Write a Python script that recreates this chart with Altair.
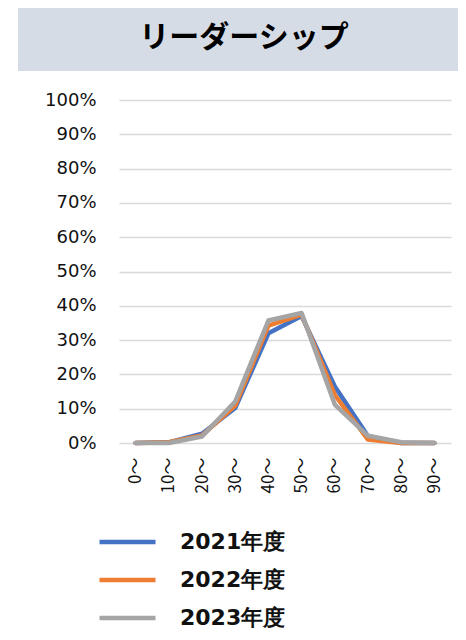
import altair as alt
import pandas as pd

categories = ["0〜", "10〜", "20〜", "30〜", "40〜", "50〜", "60〜", "70〜", "80〜", "90〜"]
series_names = ["2021年度", "2022年度", "2023年度"]
v2021 = [0.0, 0.2, 2.7, 10.2, 32.0, 37.0, 16.5, 2.0, 0.0, 0.0]
v2022 = [0.0, 0.2, 2.2, 10.9, 34.2, 37.4, 14.0, 1.0, 0.0, 0.0]
v2023 = [0.0, 0.0, 1.9, 12.1, 35.7, 37.9, 11.2, 2.1, 0.2, 0.0]
colors = ["#4472C4", "#ED7D31", "#A5A5A5"]
title_text = "リーダーシップ"

rows = []
for name, vals in zip(series_names, [v2021, v2022, v2023]):
    for c, v in zip(categories, vals):
        rows.append({"cat": c, "series": name, "value": v / 100.0})
df = pd.DataFrame(rows)

W, H = 332, 343

lines = alt.Chart(df).mark_line(strokeCap="round", strokeJoin="round").encode(
    x=alt.X("cat:N", sort=categories, scale=alt.Scale(type="point", padding=0.5),
            axis=alt.Axis(title=None, labelAngle=-90, labelFontSize=17, labelFont="Noto Sans CJK JP",
                          labelColor="#111", ticks=False, domain=False, grid=False,
                          labelPadding=14)),
    y=alt.Y("value:Q", scale=alt.Scale(domain=[0, 1], nice=False),
            axis=alt.Axis(title=None, format=".0%", values=[i / 10 for i in range(11)],
                          labelFontSize=18, labelFont="DejaVu Sans", labelColor="#111",
                          ticks=False, tickSize=0, domain=False, labelPadding=23,
                          gridColor="#D9D9D9", gridWidth=1.5)),
    color=alt.Color("series:N", scale=alt.Scale(domain=series_names, range=colors),
                    legend=alt.Legend(title=None, orient="none", legendX=-22, legendY=430,
                                      direction="vertical", symbolType="stroke",
                                      symbolSize=3136, symbolStrokeWidth=5,
                                      clipHeight=24,
                                      labelFontSize=22, labelFontWeight="bold",
                                      labelFont="DejaVu Sans", labelColor="#111",
                                      labelOffset=22, rowPadding=14, padding=0)),
    strokeWidth=alt.StrokeWidth("series:N", scale=alt.Scale(domain=series_names, range=[4.5, 4.5, 7]),
                                legend=None),
)

one = alt.Data(values=[{"a": 1}])
band = alt.Chart(one).mark_rect(color="#D6DCE5").encode(
    x=alt.value(-101), x2=alt.value(339), y=alt.value(-94), y2=alt.value(-29)
)
ttl = alt.Chart(one).mark_text(text=title_text, font="Noto Sans CJK JP", fontSize=30,
                               fontWeight="bold", color="#000", align="center",
                               baseline="middle").encode(
    x=alt.value(125), y=alt.value(-62)
)

chart = alt.layer(band, ttl, lines).properties(
    width=W, height=H,
    autosize=alt.AutoSizeParams(type="none"),
    padding={"left": 111, "top": 92, "right": 7, "bottom": 189},
).configure_view(stroke=None)

chart.save("out.html", embed_options={"renderer": "svg", "actions": False})
